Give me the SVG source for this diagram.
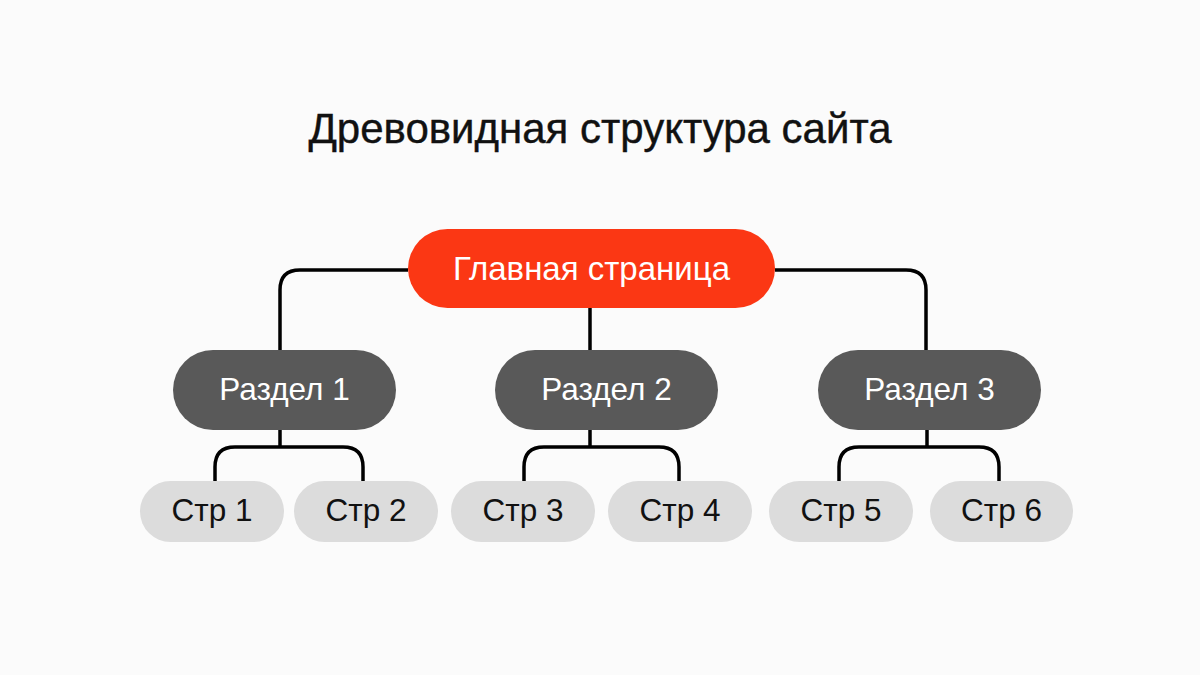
<svg xmlns="http://www.w3.org/2000/svg" width="1200" height="675" viewBox="0 0 1200 675">
<style>
.title{font-family:"Liberation Sans",Arial,sans-serif;font-size:42px;fill:#111;text-anchor:middle;stroke:#111;stroke-width:0.4}
.lbl{font-family:"Liberation Sans",Arial,sans-serif;font-size:31.5px;text-anchor:middle;dominant-baseline:central}
.main rect{fill:#fb3714}
.sec rect{fill:#595959}
.pg rect{fill:#dcdcdc}
.main text,.sec text{fill:#fff}
.main text{font-size:33px}
.pg text{fill:#111}
.conn path{fill:none;stroke:#000;stroke-width:3.5}
</style>
<rect width="1200" height="675" fill="#fbfbfb"/>
<text class="title" x="600" y="143">Древовидная структура сайта</text>
<g class="conn" id="connectors">
<path d="M408 270 H300 Q280 270 280 290 V350"/>
<path d="M775 270 H906 Q926 270 926 290 V350"/>
<path d="M590 308 V350"/>
<path d="M280 430 V447 M215 481 V467 Q215 447 235 447 H343 Q363 447 363 467 V481"/>
<path d="M590 430 V447 M524 481 V467 Q524 447 544 447 H659 Q679 447 679 467 V481"/>
<path d="M927 430 V447 M839 481 V467 Q839 447 859 447 H979 Q999 447 999 467 V481"/>
</g>
<g id="main" class="main"><rect x="408" y="229" width="367" height="79" rx="39.5"/><text class="lbl" x="591.5" y="268">Главная страница</text></g>
<g id="sec1" class="sec"><rect x="173" y="350" width="223" height="80" rx="40"/><text class="lbl" x="284.5" y="389">Раздел 1</text></g>
<g id="sec2" class="sec"><rect x="495" y="350" width="223" height="80" rx="40"/><text class="lbl" x="606.5" y="389">Раздел 2</text></g>
<g id="sec3" class="sec"><rect x="818" y="350" width="223" height="80" rx="40"/><text class="lbl" x="929.5" y="389">Раздел 3</text></g>
<g id="p1" class="pg"><rect x="140" y="481" width="144" height="61" rx="30.5"/><text class="lbl" x="212" y="510">Стр 1</text></g>
<g id="p2" class="pg"><rect x="294" y="481" width="144" height="61" rx="30.5"/><text class="lbl" x="366" y="510">Стр 2</text></g>
<g id="p3" class="pg"><rect x="451" y="481" width="144" height="61" rx="30.5"/><text class="lbl" x="523" y="510">Стр 3</text></g>
<g id="p4" class="pg"><rect x="608" y="481" width="144" height="61" rx="30.5"/><text class="lbl" x="680" y="510">Стр 4</text></g>
<g id="p5" class="pg"><rect x="769" y="481" width="144" height="61" rx="30.5"/><text class="lbl" x="841" y="510">Стр 5</text></g>
<g id="p6" class="pg"><rect x="930" y="481" width="143" height="61" rx="30.5"/><text class="lbl" x="1001.5" y="510">Стр 6</text></g>
</svg>
